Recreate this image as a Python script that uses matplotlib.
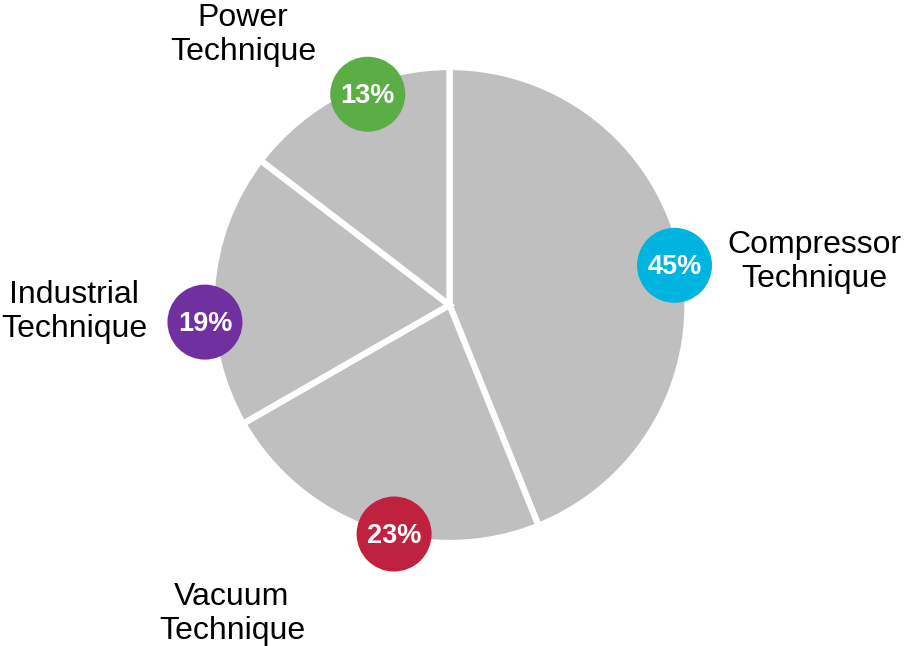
import numpy as np
import matplotlib.pyplot as plt
from matplotlib.patches import Circle

plt.rcParams['font.family'] = ['Liberation Sans', 'DejaVu Sans']

# data
segments = ["Compressor\nTechnique", "Vacuum\nTechnique", "Industrial\nTechnique", "Power\nTechnique"]
shares = [43.9, 22.8, 18.7, 14.6]          # slice sizes as drawn
share_labels = ["45%", "23%", "19%", "13%"]  # printed values

# style
badge_colors = ["#00B4E0", "#C0213F", "#7030A0", "#5BAE45"]
badge_angle = [10.0, -103.6, -176.0, 111.2]   # degrees, from centre
badge_dist = [0.96, 0.99, 1.03, 0.95]          # fraction of radius
name_pos = [(814, 262), (232, 614), (74, 312), (243, 35)]  # px, y down

W, H = 905, 646
cx, cy, R = 449.5, H - 305, 238

fig = plt.figure(figsize=(W / 100, H / 100), dpi=100)
ax = fig.add_axes([0, 0, 1, 1])
ax.set_xlim(0, W)
ax.set_ylim(0, H)
ax.set_aspect('equal')
ax.axis('off')

ax.pie(shares, startangle=90, counterclock=False, center=(cx, cy), radius=R,
       colors=["#BFBFBF"] * len(shares),
       wedgeprops=dict(edgecolor="white", linewidth=4.5))
ax.set_xlim(0, W)
ax.set_ylim(0, H)

for lab, col, ang, d in zip(share_labels, badge_colors, badge_angle, badge_dist):
    x = cx + d * R * np.cos(np.radians(ang))
    y = cy + d * R * np.sin(np.radians(ang))
    ax.add_patch(Circle((x, y), 37.5, facecolor=col, edgecolor="none", zorder=3))
    ax.text(x, y - 2, lab, color="white", fontsize=19.5, fontweight="bold",
            ha="center", va="center", zorder=4)

for name, (px, py) in zip(segments, name_pos):
    ax.text(px, H - py, name, fontsize=23, ha="center", va="center",
            linespacing=1.15, color="black")

fig.savefig("out.png", dpi=100)
